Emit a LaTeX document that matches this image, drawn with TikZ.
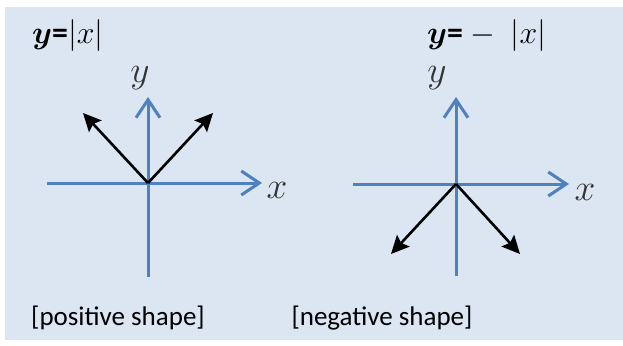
\documentclass[tikz,border=0pt]{standalone}
\usepackage{amsmath,amssymb}
\usepackage{graphicx}
\usepackage{fontspec}
\setmainfont{Carlito}
\usepackage{tikz}
\usetikzlibrary{arrows.meta,positioning}
\definecolor{panelbg}{RGB}{220,230,242}
\definecolor{axisblue}{RGB}{79,129,189}
\newcommand{\axisglyph}[1]{\scalebox{1.5}{$#1$}}
\newcommand{\titleglyph}[1]{\scalebox{1.28}{$#1$}}
\begin{document}
\begin{tikzpicture}[x=1pt, y=-1pt,
  axis/.style={draw=axisblue, line width=3pt, -{Straight Barb[length=18pt, width=24pt, line width=3pt]}},
  branch/.style={draw=black, line width=2.6pt, -{Stealth[length=18pt, width=17pt, inset=3pt]}},
  axlbl/.style={font=\Huge, text=black!80, inner sep=0pt},
  title/.style={font=\Huge, anchor=west, inner sep=0pt},
  caption/.style={font=\fontsize{27}{27}\selectfont, inner sep=0pt}]
  \useasboundingbox (0,0) rectangle (623,345);
  \fill[panelbg] (5,7) rectangle (623,340);
  % y = |x|
  \coordinate (o1) at (148,183);
  \coordinate (xl1) at (47,183); \coordinate (xr1) at (262,183);
  \coordinate (yb1) at (148,277); \coordinate (yt1) at (148,97);
  \coordinate (p1) at (83,113); \coordinate (q1) at (213,113);
  \node[title] (t1) at (32,36) {\titleglyph{\boldsymbol{y}\textbf{=}|x|}};
  \node[axlbl] (x1) at (277,190) {\axisglyph{x}};
  \node[axlbl] (y1) at (140,78) {\axisglyph{y}};
  \draw[axis] (xl1) -- (xr1);
  \draw[axis] (yb1) -- (yt1);
  \draw[branch] (o1) -- (p1);
  \draw[branch] (o1) -- (q1);
  \node[caption] (c1) at (118,318) {[positive shape]};
  % y = -|x|
  \coordinate (o2) at (456,184);
  \coordinate (xl2) at (353,184); \coordinate (xr2) at (569,184);
  \coordinate (yb2) at (456,276); \coordinate (yt2) at (456,97);
  \coordinate (p2) at (391,254); \coordinate (q2) at (520,254);
  \node[title] (t2) at (427,36) {\titleglyph{\boldsymbol{y}\textbf{=}-\;|x|}};
  \node[axlbl] (x2) at (585,192) {\axisglyph{x}};
  \node[axlbl] (y2) at (437,78) {\axisglyph{y}};
  \draw[axis] (xl2) -- (xr2);
  \draw[axis] (yb2) -- (yt2);
  \draw[branch] (o2) -- (p2);
  \draw[branch] (o2) -- (q2);
  \node[caption] (c2) at (382,318) {[negative shape]};
\end{tikzpicture}
\end{document}
